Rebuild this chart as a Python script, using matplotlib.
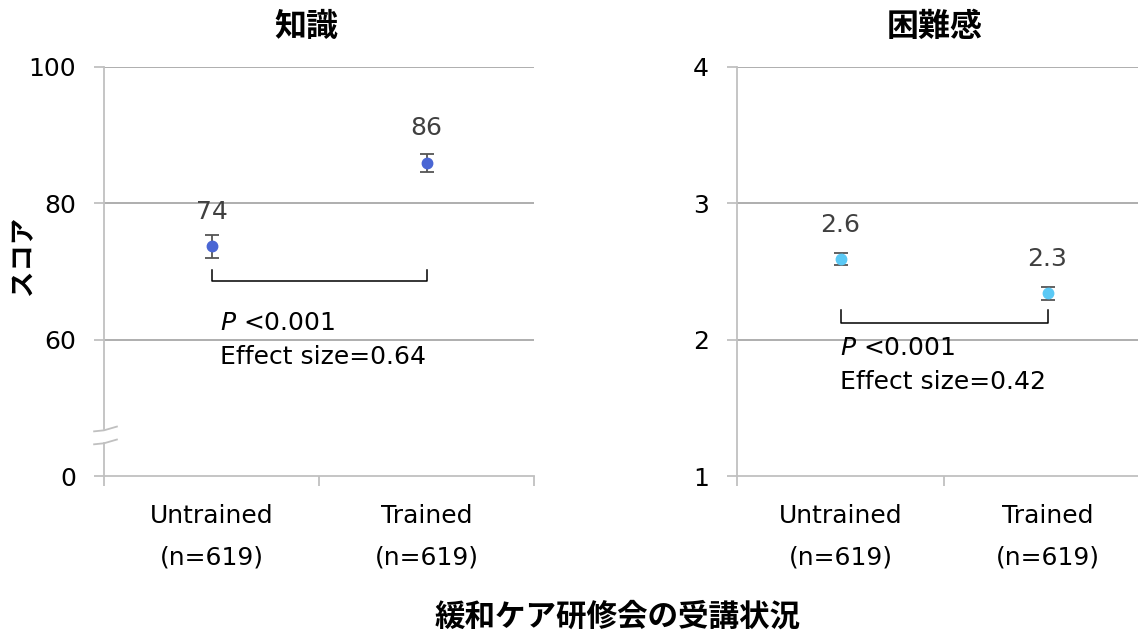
import matplotlib
matplotlib.use('Agg')
import matplotlib.pyplot as plt
import matplotlib.transforms as mtransforms
from matplotlib.patches import Rectangle

plt.rcParams['font.family'] = ['DejaVu Sans', 'Noto Sans CJK JP']
plt.rcParams['mathtext.fontset'] = 'dejavusans'

# data
groups = ['Untrained\n(n=619)', 'Trained\n(n=619)']

knowledge_mean = [73.7, 85.9]
knowledge_err = [1.65, 1.35]
knowledge_labels = ['74', '86']
# the axis is broken: the "0" tick sits where 40 would be
knowledge_ticks = [40, 60, 80, 100]
knowledge_ticklabels = ['0', '60', '80', '100']
knowledge_bracket = [70.2, 68.65]
knowledge_es = 'Effect size=0.64'

difficulty_mean = [2.59, 2.34]
difficulty_err = [0.045, 0.048]
difficulty_labels = ['2.6', '2.3']
difficulty_ticks = [1, 2, 3, 4]
difficulty_ticklabels = ['1', '2', '3', '4']
difficulty_bracket = [2.217, 2.124]
difficulty_es = 'Effect size=0.42'

grid_c = '#aeaeae'
spine_c = '#c0c0c0'
err_c = '#555555'
lab_c = '#404040'
fs = 18

fig = plt.figure(figsize=(11.38, 6.34), dpi=100)
ax1 = fig.add_axes([104/1138, 1-476/634, 430/1138, 409/634])
ax2 = fig.add_axes([737/1138, 1-476/634, 414/1138, 409/634])


def style(ax, ticks, ticklabels, ylim):
    ax.set_xlim(-0.5, 1.5)
    ax.set_ylim(*ylim)
    for s in ['top', 'right']:
        ax.spines[s].set_visible(False)
    for s in ['left', 'bottom']:
        ax.spines[s].set_color(spine_c)
        ax.spines[s].set_linewidth(1.3)
    for t in ticks[1:]:
        ax.axhline(t, color=grid_c, lw=1.4, zorder=0)
    ax.set_yticks(ticks)
    ax.set_yticklabels(ticklabels)
    ax.tick_params(axis='y', direction='out', length=7, width=1.3,
                   color=spine_c, pad=13, labelsize=fs)
    ax.set_xticks([-0.5, 0.5, 1.5])
    ax.set_xticklabels([])
    ax.tick_params(axis='x', which='major', direction='out', length=7,
                   width=1.3, color=spine_c)
    ax.set_xticks([0, 1], minor=True)
    ax.set_xticklabels(groups, minor=True, linespacing=1.95)
    ax.tick_params(axis='x', which='minor', length=0, pad=20, labelsize=fs)


def draw(ax, means, errs, labels, color, bracket):
    ax.errorbar([0, 1], means, yerr=errs, fmt='o', ms=7.5, color=color,
                ecolor=err_c, elinewidth=1.3, capsize=5, capthick=1.3,
                zorder=3)
    for x, m, lab in zip([0, 1], means, labels):
        ax.annotate(lab, (x, m), xytext=(0, 25), textcoords='offset points',
                    ha='center', va='center', fontsize=fs, color=lab_c)
    top, bot = bracket
    ax.plot([0, 0, 1, 1], [top, bot, bot, top], color='black', lw=1.1,
            zorder=2)


style(ax1, knowledge_ticks, knowledge_ticklabels, (40, 100))
style(ax2, difficulty_ticks, difficulty_ticklabels, (1, 4))

draw(ax1, knowledge_mean, knowledge_err, knowledge_labels, '#4a66d4',
     knowledge_bracket)
draw(ax2, difficulty_mean, difficulty_err, difficulty_labels, '#5bc9f5',
     difficulty_bracket)

ax1.text(0.04, 61.4, r'$\mathit{P}$ <0.001', fontsize=fs, va='baseline')
ax1.text(0.04, 56.4, knowledge_es, fontsize=fs, va='baseline')
ax2.text(0.0, 1.887, r'$\mathit{P}$ <0.001', fontsize=fs, va='baseline')
ax2.text(0.0, 1.64, difficulty_es, fontsize=fs, va='baseline')

# axis break on the left panel
tr = mtransforms.blended_transform_factory(ax1.transAxes, ax1.transData)
ax1.add_patch(Rectangle((-0.01, 45.1), 0.02, 1.7, transform=tr,
                        color='white', clip_on=False, zorder=5))
for yb in [46.9, 45.0]:
    ax1.plot([-0.023, 0.0, 0.030], [yb - 0.35, yb - 0.2, yb + 0.35],
             transform=tr, color=spine_c, lw=1.3, clip_on=False, zorder=6)

jp = ['Noto Sans CJK JP', 'DejaVu Sans']
fig.text(306.5/1138, 1-26.5/634, '知識', fontsize=23, fontweight='bold',
         family=jp, ha='center', va='center')
fig.text(935/1138, 1-26.5/634, '困難感', fontsize=23, fontweight='bold',
         family=jp, ha='center', va='center')
fig.text(23/1138, 1-255/634, 'スコア', fontsize=19, fontweight='bold',
         family=jp, ha='center', va='center', rotation=90)
fig.text(618/1138, 1-617/634, '緩和ケア研修会の受講状況', fontsize=22,
         fontweight='bold', family=jp, ha='center', va='center')

fig.savefig('out.png', dpi=100)
